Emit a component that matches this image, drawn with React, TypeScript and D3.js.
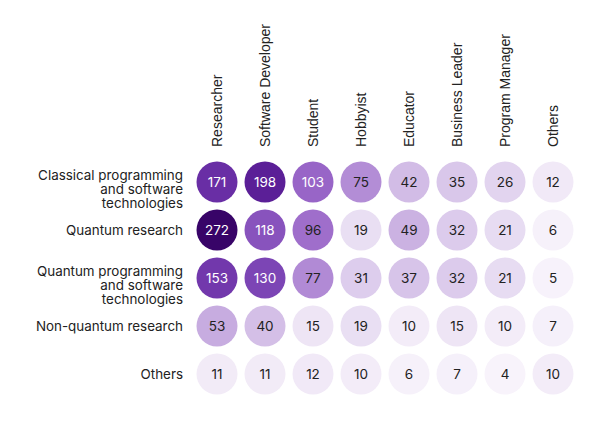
import React from "react";
import * as d3 from "d3";

const columns = ["Researcher", "Software Developer", "Student", "Hobbyist", "Educator", "Business Leader", "Program Manager", "Others"];
const rows = [
  ["Classical programming", "and software", "technologies"],
  ["Quantum research"],
  ["Quantum programming", "and software", "technologies"],
  ["Non-quantum research"],
  ["Others"],
];
const values = [
  [171, 198, 103, 75, 42, 35, 26, 12],
  [272, 118, 96, 19, 49, 32, 21, 6],
  [153, 130, 77, 31, 37, 32, 21, 5],
  [53, 40, 15, 19, 10, 15, 10, 7],
  [11, 11, 12, 10, 6, 7, 4, 10],
];

const colorDomain = [0, 10, 20, 32, 50, 75, 100, 130, 170, 200, 272];
const colorRange = ["#fbf8fd", "#f3ecf8", "#e8ddf2", "#dccbec", "#cab0e1", "#b38dd6", "#9b68c9", "#7c45b5", "#6a2fa6", "#5a1e96", "#380468"];

export default function App() {
  const W = 615, H = 434;
  const x = d3.scaleBand<number>().domain(d3.range(columns.length)).range([193, 577]);
  const y = d3.scaleBand<number>().domain(d3.range(rows.length)).range([158, 398]);
  const color = d3.scaleLinear<string>().domain(colorDomain).range(colorRange).interpolate(d3.interpolateRgb);
  const r = 20.5;
  const font = "Inter, 'Noto Sans', sans-serif";
  return (
    <svg width={W} height={H} style={{ position: "absolute", left: 0, top: 0, background: "#fff" }}>
      {columns.map((c, i) => {
        const cx = x(i)! + x.bandwidth() / 2;
        return (
          <text key={c} transform={`translate(${cx + 5},147) rotate(-90)`} fontFamily="'Liberation Sans', Arial, sans-serif" fontSize={14} fill="#222">
            {c}
          </text>
        );
      })}
      {rows.map((lines, j) => {
        const cy = y(j)! + y.bandwidth() / 2;
        const first = cy + 5 - (lines.length > 1 ? 7 : 0);
        return (
          <text key={j} textAnchor="end" fontFamily={font} fontSize={13.4} fill="#222">
            {lines.map((l, k) => (
              <tspan key={k} x={183} y={first + k * 14}>{l}</tspan>
            ))}
          </text>
        );
      })}
      {values.map((rowVals, j) =>
        rowVals.map((v, i) => {
          const cx = x(i)! + x.bandwidth() / 2;
          const cy = y(j)! + y.bandwidth() / 2;
          return (
            <g key={`${j}-${i}`}>
              <circle cx={cx} cy={cy} r={r} fill={color(v)} />
              <text x={cx} y={cy + 5} textAnchor="middle" fontFamily={font} fontSize={13.5} fill={v > 100 ? "#fff" : "#222"}>
                {v}
              </text>
            </g>
          );
        })
      )}
    </svg>
  );
}
